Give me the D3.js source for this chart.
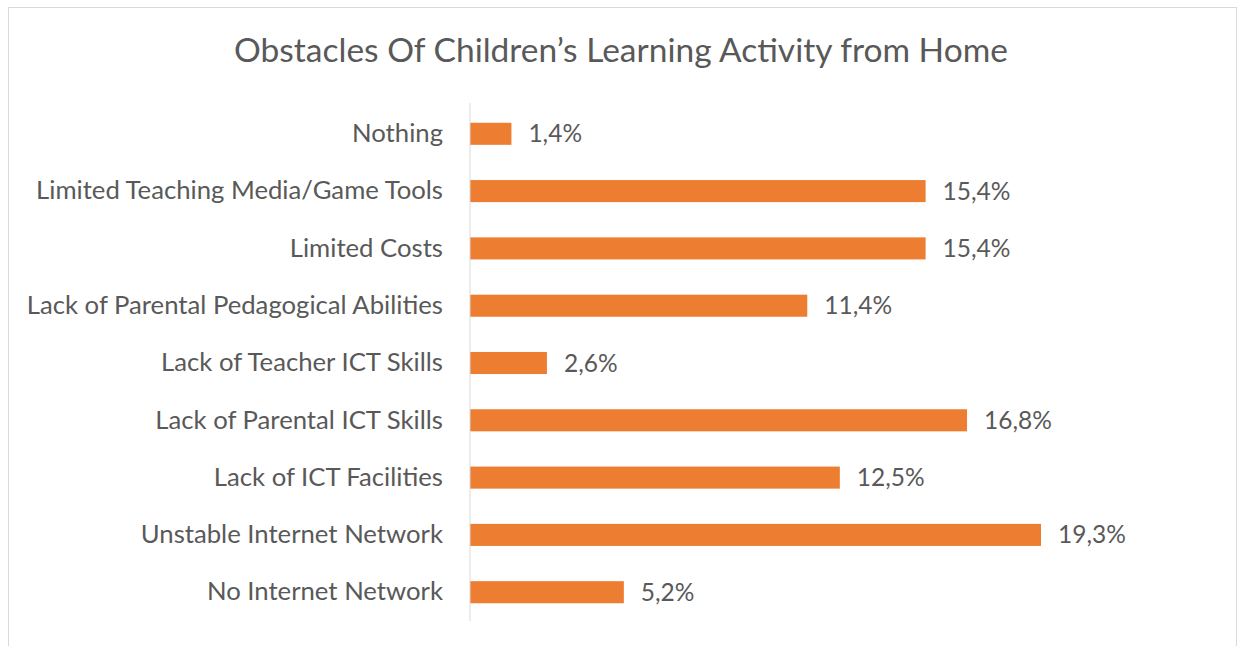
<!DOCTYPE html>
<html lang="en">
<head>
<meta charset="UTF-8">
<title>Obstacles Of Children's Learning Activity from Home</title>
<script src="https://cdn.jsdelivr.net/npm/d3@7"></script>
<style>
  body { margin: 0; background: #fff; }
  text { font-family: Lato, "Open Sans", sans-serif; fill: #595959; }
</style>
</head>
<body>
<script>
var categories = [
  "Nothing",
  "Limited Teaching Media/Game Tools",
  "Limited Costs",
  "Lack of Parental Pedagogical Abilities",
  "Lack of Teacher ICT Skills",
  "Lack of Parental ICT Skills",
  "Lack of ICT Facilities",
  "Unstable Internet Network",
  "No Internet Network"
];
var values = [1.4, 15.4, 15.4, 11.4, 2.6, 16.8, 12.5, 19.3, 5.2];
var valueLabels = ["1,4%", "15,4%", "15,4%", "11,4%", "2,6%", "16,8%", "12,5%", "19,3%", "5,2%"];

var width = 1237, height = 646;
var x0 = 470;

var svg = d3.select("body").append("svg")
  .attr("width", width)
  .attr("height", height);

// chart frame
svg.append("rect")
  .attr("x", 8.5).attr("y", 7.5)
  .attr("width", 1228).attr("height", 660)
  .attr("fill", "none")
  .attr("stroke", "#d9d9d9");

svg.append("text")
  .attr("x", 621).attr("y", 62)
  .attr("text-anchor", "middle")
  .style("font-size", "33.5px")
  .text("Obstacles Of Children\u2019s Learning Activity from Home");

var x = d3.scaleLinear()
  .domain([0, 19.3])
  .range([x0, 1041]);

var y = d3.scaleBand()
  .domain(categories)
  .range([105, 621])
  .paddingInner(0.615)
  .paddingOuter(0.31);

svg.append("g")
  .selectAll("rect")
  .data(values)
  .join("rect")
  .attr("x", x(0))
  .attr("y", (d, i) => y(categories[i]))
  .attr("width", d => x(d) - x(0))
  .attr("height", y.bandwidth())
  .attr("fill", "#ed7d31");

var yAxis = svg.append("g")
  .attr("transform", "translate(" + x0 + ",0)")
  .call(d3.axisLeft(y).tickSize(0).tickPadding(27));
yAxis.select(".domain").attr("stroke", "#d9d9d9").attr("d", "M0,103V621");
yAxis.selectAll("text")
  .style("font-size", "25.7px")
  .attr("fill", "#595959");

svg.append("g")
  .selectAll("text")
  .data(values)
  .join("text")
  .attr("x", d => x(d) + 17)
  .attr("y", (d, i) => y(categories[i]) + y.bandwidth() / 2)
  .attr("dy", "0.35em")
  .style("font-size", "24.5px")
  .text((d, i) => valueLabels[i]);
</script>
</body>
</html>
